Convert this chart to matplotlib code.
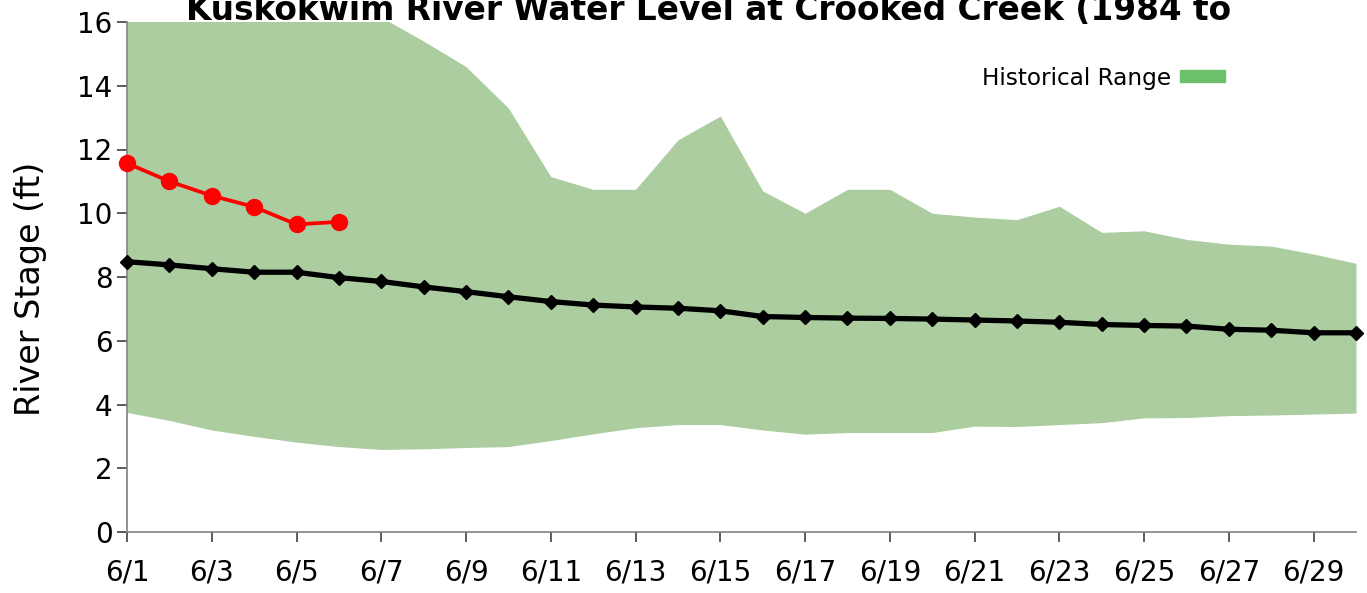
import numpy as np
import matplotlib
matplotlib.use('Agg')
from matplotlib import pyplot as plt
from matplotlib.patches import Patch

dates = [f'6/{d}' for d in range(1, 31)]

hist_max = [18.5, 18.3, 18.0, 17.6, 17.2, 16.8, 16.15, 15.4, 14.6, 13.3,
            11.15, 10.75, 10.75, 12.3, 13.05, 10.7, 10.0, 10.75, 10.75, 10.0,
            9.88, 9.8, 10.22, 9.4, 9.45, 9.18, 9.03, 8.97, 8.72, 8.43]
hist_min = [3.75, 3.5, 3.2, 3.0, 2.82, 2.68, 2.59, 2.61, 2.65, 2.68,
            2.87, 3.08, 3.27, 3.37, 3.37, 3.2, 3.07, 3.12, 3.12, 3.12,
            3.32, 3.31, 3.37, 3.43, 3.58, 3.59, 3.65, 3.67, 3.70, 3.73]
hist_mean = [8.48, 8.38, 8.26, 8.15, 8.15, 7.98, 7.86, 7.69, 7.54, 7.38,
             7.23, 7.12, 7.06, 7.02, 6.94, 6.76, 6.73, 6.71, 6.70, 6.68,
             6.65, 6.62, 6.58, 6.51, 6.48, 6.46, 6.36, 6.33, 6.25, 6.25]
current = [11.57, 11.0, 10.55, 10.2, 9.65, 9.73]

x = np.arange(len(dates))

fig = plt.figure(figsize=(13.67, 5.93), dpi=100)
ax = fig.add_axes([127/1367, 61/593, 1229/1367, 510/593])

ax.fill_between(x, hist_min, hist_max, color='#abcda0', lw=0)
ax.plot(x, hist_mean, color='black', lw=3.8, marker='D', ms=7.5, clip_on=False, zorder=3)
ax.plot(x[:len(current)], current, color='#ff0000', lw=2.7, marker='o', ms=11.5,
        clip_on=False, zorder=4)

ax.set_xlim(0, 29)
ax.set_ylim(0, 16)
ax.set_yticks(np.arange(0, 17, 2))
ax.set_xticks(x[::2])
ax.set_xticklabels(dates[::2])

for s in ['top', 'right']:
    ax.spines[s].set_visible(False)
for s in ['left', 'bottom']:
    ax.spines[s].set_color('#808080')
    ax.spines[s].set_linewidth(1.2)
ax.tick_params(axis='both', length=7, width=1.2, color='#404040', labelsize=20)
ax.tick_params(axis='x', pad=12)

ax.set_ylabel('River Stage (ft)', fontsize=24)
ax.yaxis.set_label_coords(-0.065, 0.476)

handle = Patch(color='#6cc06a')
ax.legend([handle], ['Historical Range'], loc='center right',
          bbox_to_anchor=(0.91, 0.89), frameon=False, markerfirst=False,
          fontsize=16.7, handlelength=1.9, handleheight=0.43, handletextpad=0.4)

fig.text(0.518, 0.966, 'Kuskokwim River Water Level at Crooked Creek (1984 to',
         ha='center', va='baseline', fontsize=23.6, fontweight='bold')

fig.savefig('out.png', dpi=100)
